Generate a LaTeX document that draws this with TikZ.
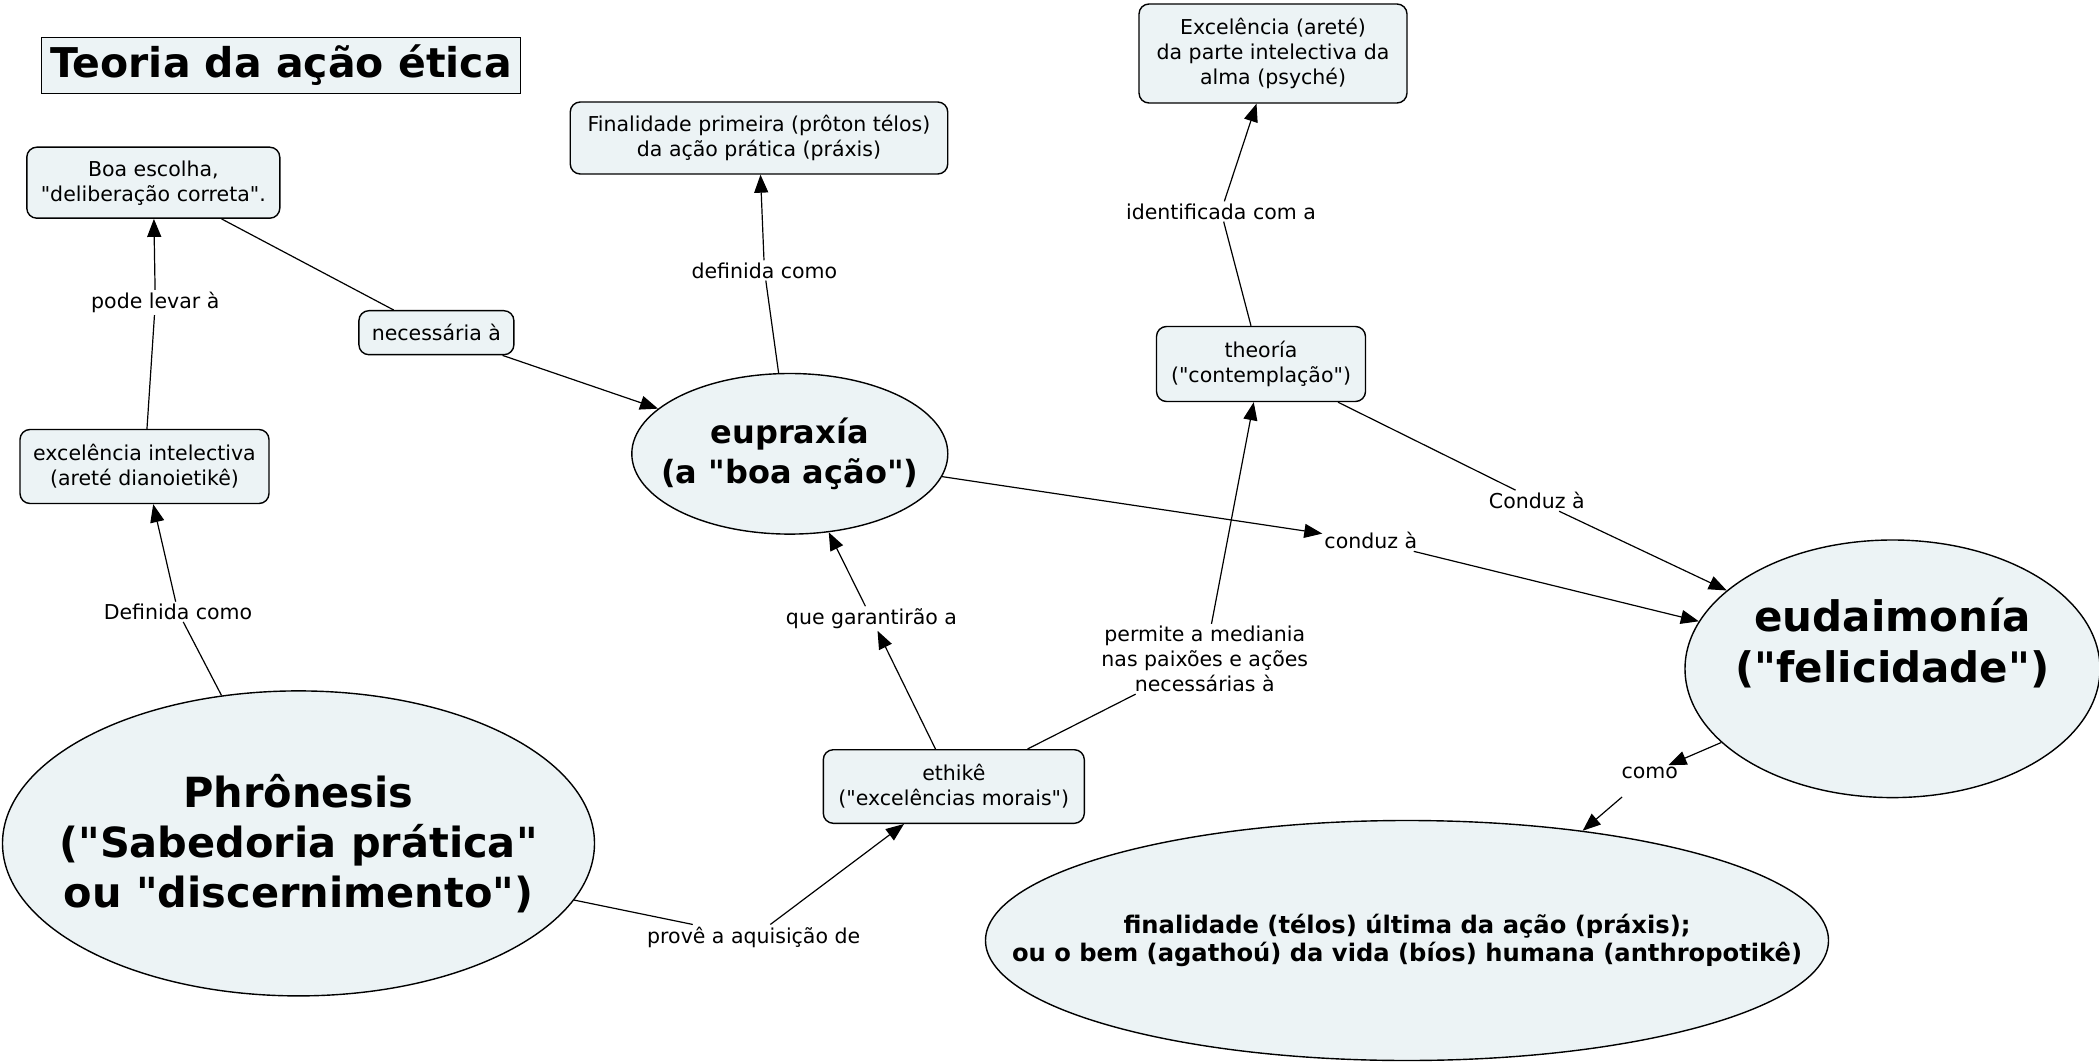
\documentclass[tikz,border=0pt]{standalone}
\usepackage{fontspec}
\setmainfont{DejaVu Sans}[Ligatures=TeXOff]
\usetikzlibrary{shapes.geometric,arrows.meta}
\definecolor{nodefill}{RGB}{236,243,245}
\newcommand\fsmall{\fontsize{20.5}{25}\selectfont}
\begin{document}
\begin{tikzpicture}[x=1pt,y=-1pt,
  cbox/.style={draw, rounded corners=10pt, fill=nodefill, line width=1.4pt, align=center, inner sep=0pt, font=\fsmall},
  ell/.style={draw, ellipse, fill=nodefill, line width=1.4pt, inner sep=0pt},
  lbl/.style={align=center, inner sep=2pt, font=\fsmall},
  conn/.style={line width=1.2pt},
  arr/.style={conn, -{Triangle[length=18pt,width=14pt]}}]
\useasboundingbox (0,0) rectangle (2099,1064);

% title
\node[draw, fill=nodefill, line width=1.6pt, minimum width=479pt, minimum height=56pt, inner sep=0pt,
      font=\fontsize{41}{48}\selectfont\bfseries] (title) at (281,65.6) {Teoria da ação ética};

% boxes
\node[cbox, minimum width=253pt, minimum height=71pt] (boa) at (153.3,182.7) {Boa escolha,\\"deliberação correta".};
\node[cbox, minimum width=249pt, minimum height=74pt] (exc) at (144.5,466.5) {excelência intelectiva\\(areté dianoietikê)};
\node[cbox, minimum width=155pt, minimum height=44pt] (nec) at (436.4,332.7) {necessária à};
\node[cbox, minimum width=377.5pt, minimum height=72pt] (fin1) at (759,138) {Finalidade primeira (prôton télos)\\da ação prática (práxis)};
\node[cbox, minimum width=268pt, minimum height=99pt] (exa) at (1273,53.5) {Excelência (areté)\\da parte intelectiva da\\alma (psyché)};
\node[cbox, minimum width=209pt, minimum height=75pt] (the) at (1261,364) {theoría\\("contemplação")};
\node[cbox, minimum width=261pt, minimum height=73.6pt] (eth) at (953.8,786.5) {ethikê\\("excelências morais")};

% ellipses
\node[ell, minimum width=316pt, minimum height=160.6pt,
      label={[font=\fontsize{32}{40}\selectfont\bfseries, align=center]center:{eupraxía\\(a "boa ação")}}] (eup) at (789.8,453.8) {};
\node[ell, minimum width=415pt, minimum height=257.6pt,
      label={[font=\fontsize{42}{51}\selectfont\bfseries, align=center, yshift=26pt]center:{eudaimonía\\("felicidade")}}] (eud) at (1892.5,668.8) {};
\node[ell, minimum width=592pt, minimum height=305pt,
      label={[font=\fontsize{41.5}{50}\selectfont\bfseries, align=center]center:{Phrônesis\\("Sabedoria prática"\\ ou "discernimento")}}] (phr) at (298.5,843.4) {};
\node[ell, minimum width=843pt, minimum height=240pt,
      label={[font=\fontsize{24.2}{28}\selectfont\bfseries, align=center]center:{finalidade (télos) última da ação (práxis);\\ou o bem (agathoú) da vida (bíos) humana (anthropotikê)}}] (fin2) at (1407,940.5) {};

% linking phrases
\node[lbl] (pode) at (155.3,302.5) {pode levar à};
\node[lbl] (defA) at (178,611.8) {Definida como};
\node[lbl] (defB) at (764.4,270.4) {definida como};
\node[lbl] (ident) at (1221,211.5) {identificada com a};
\node[lbl] (condA) at (1536.8,500.7) {Conduz à};
\node[lbl] (condB) at (1370.8,540.8) {conduz à};
\node[lbl] (gar) at (871.5,618.5) {que garantirão a};
\node[lbl] (perm) at (1204.8,659) {permite a mediania\\nas paixões e ações\\necessárias à};
\node[lbl] (prov) at (753.7,937) {provê a aquisição de};
\node[lbl] (como) at (1649.7,773.3) {como};

% connectors
\draw[conn] (exc) -- (pode);
\draw[arr] (pode) -- (boa);
\draw[conn] (phr) -- (defA);
\draw[arr] (defA) -- (exc);
\draw[conn] (boa) -- (nec);
\draw[arr] (nec) -- (eup);
\draw[conn] (eup) -- (defB);
\draw[arr] (defB) -- (fin1);
\draw[arr] (eup) -- (condB);
\draw[arr] (condB) -- (eud);
\draw[conn] (the) -- (ident);
\draw[arr] (ident) -- (exa);
\draw[conn] (the) -- (condA);
\draw[arr] (condA) -- (eud);
\draw[arr] (eth) -- (gar);
\draw[arr] (gar) -- (eup);
\draw[conn] (eth) -- (perm);
\draw[arr] (perm) -- (the);
\draw[conn] (phr) -- (prov);
\draw[arr] (prov) -- (eth);
\draw[arr] (eud) -- (como);
\draw[arr, shorten <=24pt] (como) -- (fin2.32);
\end{tikzpicture}
\end{document}
